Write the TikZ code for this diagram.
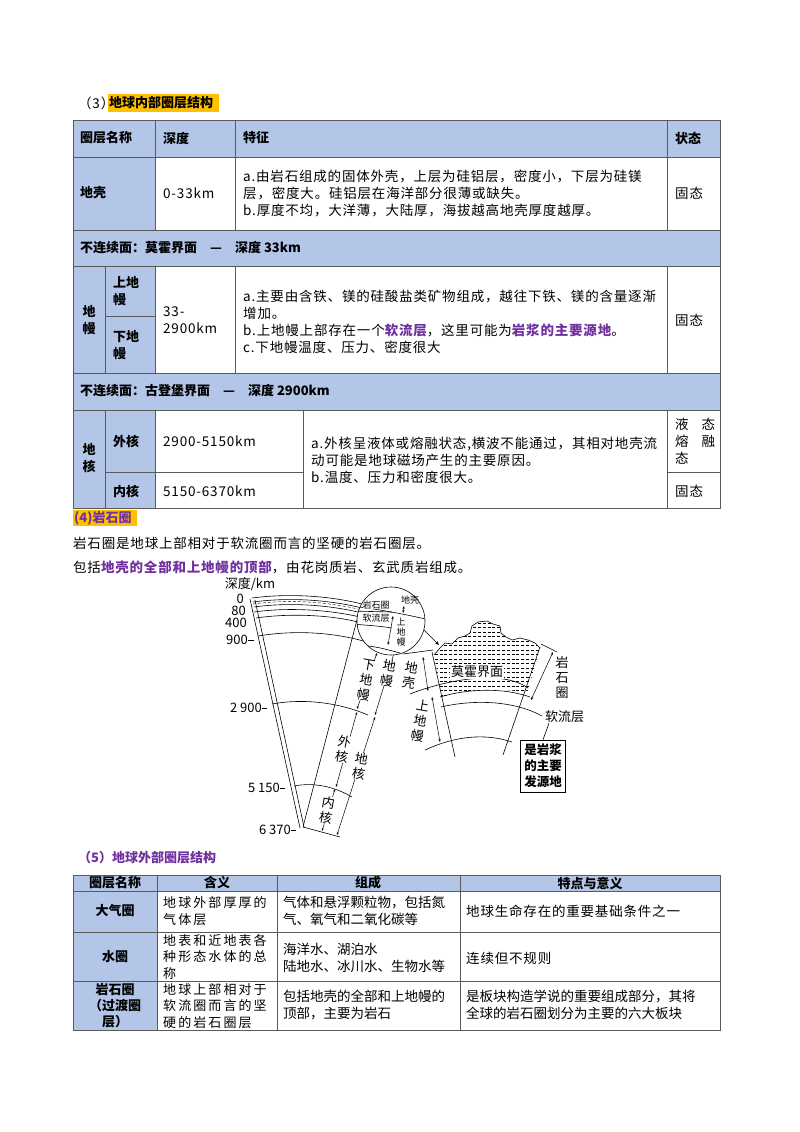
\documentclass[tikz,border=0pt]{standalone}
\usepackage{fontspec}
\setmainfont{Noto Sans CJK SC}
\usetikzlibrary{positioning,arrows.meta}
\definecolor{headblue}{RGB}{180,198,231}
\definecolor{hpurple}{RGB}{112,48,160}
\definecolor{hyellow}{RGB}{255,192,0}
\definecolor{gridgray}{RGB}{90,90,90}

\begin{document}
\begin{tikzpicture}[x=1pt, y=-1pt]

% Define styles
\tikzstyle{cell} = [anchor=west, inner sep=0pt, font=\fontsize{13.5}{17}\selectfont\addfontfeature{LetterSpace=6}, align=left]
\tikzstyle{headcell} = [cell, font=\fontsize{13}{17}\selectfont\bfseries]
\tikzstyle{midcell} = [cell, anchor=center, align=center]
\tikzstyle{wide} = [cell, font=\fontsize{13}{16.5}\selectfont\addfontfeature{LetterSpace=16}]
\tikzstyle{grid} = [draw=gridgray, line width=0.9pt]
\tikzstyle{dia} = [inner sep=0pt, font=\fontsize{13}{15}\selectfont, align=center]
\tikzstyle{small} = [inner sep=0pt, font=\fontsize{9}{10}\selectfont, align=center]
\tikzstyle{dim} = [{Stealth[length=3pt,width=2.2pt]}-{Stealth[length=3pt,width=2.2pt]}, line width=0.5pt]
\tikzstyle{earth} = [line width=0.6pt]

\useasboundingbox (0,0) rectangle (800,1132);
\fill[white] (0,0) rectangle (800,1132);

% (3) title
\node[cell] (t3num) at (78,103) {（3）};
\fill[hyellow] (108,94) rectangle (219,112);
\node[headcell] (t3title) at (109,103) {地球内部圈层结构};

% Table 1: fills
\fill[headblue] (73,120) rectangle (720,157);
\fill[headblue] (73,157) rectangle (155,230);
\fill[headblue] (73,230) rectangle (720,266);
\fill[headblue] (73,266) rectangle (155,373);
\fill[headblue] (73,373) rectangle (720,410);
\fill[headblue] (73,410) rectangle (155,508);

% Table 1: grid
\draw[grid] (73,120) rectangle (720,508);
\draw[grid] (73,157) -- (720,157);
\draw[grid] (73,230) -- (720,230);
\draw[grid] (73,266) -- (720,266);
\draw[grid] (73,373) -- (720,373);
\draw[grid] (73,410) -- (720,410);
\draw[grid] (105,316) -- (155,316);
\draw[grid] (105,472) -- (303,472);
\draw[grid] (667,472) -- (720,472);
\draw[grid] (155,120) -- (155,230);
\draw[grid] (235,120) -- (235,230);
\draw[grid] (667,120) -- (667,230);
\draw[grid] (105,266) -- (105,373);
\draw[grid] (155,266) -- (155,373);
\draw[grid] (235,266) -- (235,373);
\draw[grid] (667,266) -- (667,373);
\draw[grid] (105,410) -- (105,508);
\draw[grid] (155,410) -- (155,508);
\draw[grid] (303,410) -- (303,508);
\draw[grid] (667,410) -- (667,508);

% Table 1: header
\node[headcell] (hname) at (80,138) {圈层名称};
\node[headcell] (hdepth) at (163,138) {深度};
\node[headcell] (hfeat) at (243,138) {特征};
\node[headcell] (hstate) at (675,138) {状态};

% Table 1: crust
\node[headcell] (crust) at (80,193) {地壳};
\node[cell] (crustd) at (163,193) {0-33km};
\node[cell] (crustf) at (243,193) {a.由岩石组成的固体外壳，上层为硅铝层，密度小，下层为硅镁\\层，密度大。硅铝层在海洋部分很薄或缺失。\\b.厚度不均，大洋薄，大陆厚，海拔越高地壳厚度越厚。};
\node[cell] (crusts) at (675,193) {固态};
\node[headcell] (moho) at (80,248) {不连续面：莫霍界面\quad —\quad 深度 33km};

% Table 1: mantle
\node[headcell, anchor=center, align=center] (mantle) at (89,320) {地\\幔};
\node[headcell] (umantle) at (113,291) {上地\\幔};
\node[headcell] (lmantle) at (113,345) {下地\\幔};
\node[cell] (mantled) at (163,320) {33-\\2900km};
\node[cell] (mantlef) at (243,322) {a.主要由含铁、镁的硅酸盐类矿物组成，越往下铁、镁的含量逐渐\\增加。\\b.上地幔上部存在一个{\bfseries\color{hpurple}软流层}，这里可能为{\bfseries\color{hpurple}岩浆的主要源地}。\\c.下地幔温度、压力、密度很大};
\node[cell] (mantles) at (675,320) {固态};
\node[headcell] (guten) at (80,391) {不连续面：古登堡界面\quad —\quad 深度 2900km};

% Table 1: core
\node[headcell, anchor=center, align=center] (core) at (89,458) {地\\核};
\node[headcell] (ocore) at (113,441) {外核};
\node[headcell] (icore) at (113,491) {内核};
\node[cell] (ocored) at (163,441) {2900-5150km};
\node[cell] (icored) at (163,491) {5150-6370km};
\node[cell] (coref) at (311,460) {a.外核呈液体或熔融状态,横波不能通过，其相对地壳流\\动可能是地球磁场产生的主要原因。\\b.温度、压力和密度很大。};
\node[cell, text width=40pt] (ocores) at (675,441) {液\hfill 态\\熔\hfill 融\\态};
\node[cell] (icores) at (675,491) {固态};

% (4) lithosphere text
\fill[hyellow] (73,510) rectangle (137,526);
\node[headcell, text=hpurple] (t4title) at (74,518) {(4)岩石圈};
\node[cell] (t4line1) at (73,543) {岩石圈是地球上部相对于软流圈而言的坚硬的岩石圈层。};
\node[cell] (t4line2) at (73,567) {包括{\bfseries\color{hpurple}地壳的全部和上地幔的顶部}，由花岗质岩、玄武质岩组成。};

% Earth section: wedge
\draw[earth] (250,599) -- (300,828);
\draw[earth] (255,600) -- (304,827);
\draw[earth] (359,612) -- (303,827);
\draw[earth] (252,598) .. controls (290,593) and (330,596) .. (362,604);
\draw[earth] (253,602) .. controls (290,597) and (330,600) .. (362,608);
\draw[earth, densely dashed, line width=0.4pt] (253,604) .. controls (290,599) and (330,602) .. (362,610);
\draw[earth] (254,607) .. controls (290,602) and (330,605) .. (362,613);
\draw[earth] (254,612) .. controls (290,607) and (330,610) .. (360,617);
\draw[earth] (256,618) .. controls (290,613) and (330,615) .. (358,622);
\draw[earth] (258,636) .. controls (300,629) and (345,633) .. (382,647);
\draw[earth] (272,704) .. controls (305,698) and (340,703) .. (368,715);
\draw[earth] (294,786) .. controls (315,782) and (335,787) .. (352,797);
\draw[earth] (303,827) -- (340,837);

% Earth section: depth labels
\node[dia, anchor=center] (depthhead) at (250,584) {深度/km};
\node[dia, anchor=east] (d0) at (244,599) {0};
\node[dia, anchor=east] (d80) at (246,611) {80};
\node[dia, anchor=east] (d400) at (247,623) {400};
\node[dia, anchor=east] (d900) at (248,640) {900};
\node[dia, anchor=east] (d2900) at (262,708) {2 900};
\node[dia, anchor=east] (d5150) at (280,788) {5 150};
\node[dia, anchor=east] (d6370) at (291,830) {6 370};
\draw[earth] (d900.east) -- ++(6,0);
\draw[earth] (d2900.east) -- ++(5,0);
\draw[earth] (d5150.east) -- ++(5,0);
\draw[earth] (d6370.east) -- ++(5,0);

% Earth section: dimension arrows
\coordinate (lmtop) at (377,653);
\coordinate (lmbot) at (357,709);
\coordinate (mtop) at (395,650);
\coordinate (mbot) at (375,715);
\coordinate (octop) at (357,712);
\coordinate (ocbot) at (336,787);
\coordinate (ctop) at (375,717);
\coordinate (cbot) at (337,835);
\coordinate (ictop) at (335,789);
\coordinate (icbot) at (322,831);
\draw[dim] (lmtop) -- (lmbot);
\draw[dim] (mtop) -- (mbot);
\draw[dim] (octop) -- (ocbot);
\draw[dim] (ctop) -- (cbot);
\draw[dim] (ictop) -- (icbot);
\node[dia, fill=white, rotate=-10] (lmlabel) at (366,680) {下\\地\\幔};
\node[dia, fill=white, rotate=-10] (mlabel) at (388,673) {地\\幔};
\node[dia, fill=white, rotate=-10] (oclabel) at (343,749) {外\\核};
\node[dia, fill=white, rotate=-10] (clabel) at (360,766) {地\\核};
\node[dia, fill=white, rotate=-10] (iclabel) at (327,810) {内\\核};

% Earth section: magnifier circle
\fill[white] (391,621) circle (34);
\draw[earth] (391,621) circle (34);
\begin{scope}
\clip (391,621) circle (34);
\draw[earth] (350,606) .. controls (370,608) and (395,612) .. (430,620);
\draw[earth] (350,611) -- (392,612);
\draw[earth] (350,624) .. controls (365,625) and (380,626) .. (392,628);
\draw[earth] (358,645) .. controls (375,646) and (385,649) .. (400,653);
\end{scope}
\node[small] (cshell) at (410,600) {地壳};
\node[small, fill=white] (clith) at (376,605) {岩石圈};
\node[small] (casth) at (376,618) {软流层};
\draw[dim] (404,606) -- (403,613);
\draw[dim] (393,616) -- (388,645);
\node[small, fill=white] (cum) at (401,632) {上\\地\\幔};
\coordinate (magfrom) at (424,630);
\coordinate (magto) at (439,645);
\draw[-{Stealth[length=4pt,width=3pt]}, line width=0.6pt] (magfrom) -- (magto);

% Magnified part: hatched crust
\begin{scope}
\clip (434,655) -- (440,648) -- (445,643) -- (452,644) -- (458,638) -- (465,636) -- (470,633) -- (472,626) -- (478,622) -- (487,621) -- (493,624) -- (500,626) -- (501,633) -- (506,637) -- (512,640) -- (520,638) -- (528,640) -- (535,643) -- (540,648) -- (527,693) .. controls (505,688) and (470,688) .. (442,697) -- cycle;
\foreach \yy in {623,627.5,...,699}
  \draw[dash pattern=on 3pt off 1.8pt, line width=0.4pt] (430,\yy) -- (545,\yy);
\end{scope}
\draw[earth] (434,655) -- (440,648) -- (445,643) -- (452,644) -- (458,638) -- (465,636) -- (470,633) -- (472,626) -- (478,622) -- (487,621) -- (493,624) -- (500,626) -- (501,633) -- (506,637) -- (512,640) -- (520,638) -- (528,640) -- (535,643) -- (540,648);

% Magnified part: lines
\draw[earth] (432,652) -- (455,757);
\draw[earth] (540,647) -- (503,755);
\draw[earth] (440,697) .. controls (470,688) and (505,688) .. (530,697);
\draw[earth] (441,707) .. controls (475,699) and (515,701) .. (542,716);
\draw[earth] (425,750) .. controls (455,736) and (485,733) .. (512,742);
\draw[earth] (410,694) .. controls (440,682) and (500,668) .. (528,688);
\draw[earth] (403,654) -- (433,650);
\draw[earth] (541,644) -- (557,652);
\node[dia, fill=white, inner sep=1pt] (mohotext) at (477,672) {莫霍界面};
\draw[dim] (423,657) -- (428,691);
\draw[dim] (432,697) -- (440,742);
\draw[dim] (553,652) -- (531,700);
\node[dia, rotate=-10] (mcrust) at (410,675) {地\\壳};
\node[dia, rotate=-10] (mum) at (420,721) {上\\地\\幔};
\node[dia] (mlith) at (562,678) {岩\\石\\圈};
\node[dia, anchor=west] (masth) at (545,717) {软流层};
\node[dia, draw, line width=0.6pt, font=\fontsize{12.5}{16}\selectfont\bfseries, inner sep=4pt] (magma) at (543,766) {是岩浆\\的主要\\发源地};
\draw[earth] (masth.south west) ++(4,0) -- (magma.north);

% (5) title
\node[headcell, text=hpurple] (t5title) at (78,858) {（5）地球外部圈层结构};

% Table 2: fills and grid
\fill[headblue] (73,875) rectangle (720,891);
\fill[headblue] (73,891) rectangle (157,1030);
\draw[grid] (73,875) rectangle (720,1030);
\draw[grid] (73,891) -- (720,891);
\draw[grid] (73,932) -- (720,932);
\draw[grid] (73,981) -- (720,981);
\draw[grid] (157,875) -- (157,1030);
\draw[grid] (277,875) -- (277,1030);
\draw[grid] (460,875) -- (460,1030);

% Table 2: text
\node[midcell, font=\fontsize{13}{16}\selectfont\bfseries] (h2name) at (115,883) {圈层名称};
\node[midcell, font=\fontsize{13}{16}\selectfont\bfseries] (h2mean) at (217,883) {含义};
\node[midcell, font=\fontsize{13}{16}\selectfont\bfseries] (h2comp) at (368,883) {组成};
\node[midcell, font=\fontsize{13}{16}\selectfont\bfseries] (h2sig) at (590,883) {特点与意义};
\node[midcell, font=\fontsize{13}{16}\selectfont\bfseries] (atmo) at (115,911) {大气圈};
\node[wide] (atmom) at (163,911) {地球外部厚厚的\\气体层};
\node[cell, font=\fontsize{13.5}{16.5}\selectfont] (atmoc) at (283,911) {气体和悬浮颗粒物，包括氮\\气、氧气和二氧化碳等};
\node[cell] (atmos) at (466,911) {地球生命存在的重要基础条件之一};
\node[midcell, font=\fontsize{13}{16}\selectfont\bfseries] (hydro) at (115,957) {水圈};
\node[wide] (hydrom) at (163,957) {地表和近地表各\\种形态水体的总\\称};
\node[cell, font=\fontsize{13.5}{16.5}\selectfont] (hydroc) at (283,958) {海洋水、湖泊水\\陆地水、冰川水、生物水等};
\node[cell] (hydros) at (466,958) {连续但不规则};
\node[midcell, font=\fontsize{13}{16}\selectfont\bfseries] (litho) at (115,1006) {岩石圈\\（过渡圈\\层）};
\node[wide] (lithom) at (163,1006) {地球上部相对于\\软流圈而言的坚\\硬的岩石圈层};
\node[cell, font=\fontsize{13.5}{16.5}\selectfont] (lithoc) at (283,1005) {包括地壳的全部和上地幔的\\顶部，主要为岩石};
\node[cell, font=\fontsize{13.5}{16.5}\selectfont] (lithos) at (466,1005) {是板块构造学说的重要组成部分，其将\\全球的岩石圈划分为主要的六大板块};

\end{tikzpicture}
\end{document}
